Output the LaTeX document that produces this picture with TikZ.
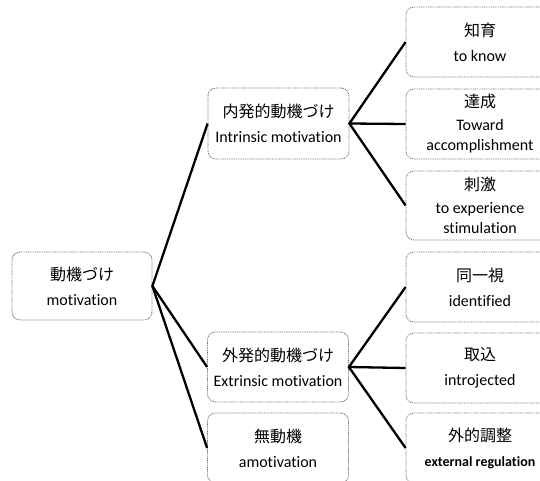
\documentclass[tikz,border=0pt]{standalone}
\usepackage{fontspec}
\setmainfont[Ligatures=NoCommon]{Carlito}
\newfontfamily\cjk{Noto Sans CJK JP}
\begin{document}
\begin{tikzpicture}[x=1pt,y=-1pt,
  box/.style={draw=black!60, line width=0.8pt, dash pattern=on 0.9pt off 0.9pt,
    rounded corners=8pt, fill=white, align=center, inner sep=0pt,
    font=\fontsize{16}{20}\selectfont},
  link/.style={line width=2.3pt, black}]
\useasboundingbox (0,0) rectangle (540,481);
\clip (0,0) rectangle (540,481);
\fill[white] (0,0) rectangle (540,481);
\node[box, minimum width=140pt, minimum height=68pt] (root) at (82,286) {{\cjk 動機づけ}\\[5pt]motivation};
\node[box, minimum width=141pt, minimum height=71pt] (intr) at (278.5,123.5) {{\cjk 内発的動機づけ}\\[5pt]Intrinsic motivation};
\node[box, minimum width=141pt, minimum height=70pt] (extr) at (278,367) {{\cjk 外発的動機づけ}\\[5pt]Extrinsic motivation};
\node[box, minimum width=141pt, minimum height=70pt] (amot) at (278,448) {{\cjk 無動機}\\[5pt]amotivation};
\node[box, minimum width=148pt, minimum height=70pt] (k1) at (480,42) {{\cjk 知育}\\[5pt]to know};
\node[box, minimum width=148pt, minimum height=70pt] (k2) at (480,124) {{\cjk 達成}\\[3pt]Toward\\accomplishment};
\node[box, minimum width=148pt, minimum height=69pt] (k3) at (480,205.5) {{\cjk 刺激}\\[3pt]to experience\\stimulation};
\node[box, minimum width=148pt, minimum height=70pt] (e1) at (480,287) {{\cjk 同一視}\\[5pt]identified};
\node[box, minimum width=148pt, minimum height=70pt] (e2) at (480,368) {{\cjk 取込}\\[5pt]introjected};
\node[box, minimum width=148pt, minimum height=70pt] (e3) at (480,448) {{\cjk 外的調整}\\[5pt]{\fontsize{14}{18}\selectfont\bfseries external regulation}};
\draw[link] (intr.west) -- (root.east) -- (extr.west);
\draw[link] (root.east) -- (amot.west);
\draw[link] (k1.west) -- (intr.east) -- (k3.west);
\draw[link] (intr.east) -- (k2.west);
\draw[link] (e1.west) -- (extr.east) -- (e3.west);
\draw[link] (extr.east) -- (e2.west);
\end{tikzpicture}
\end{document}
